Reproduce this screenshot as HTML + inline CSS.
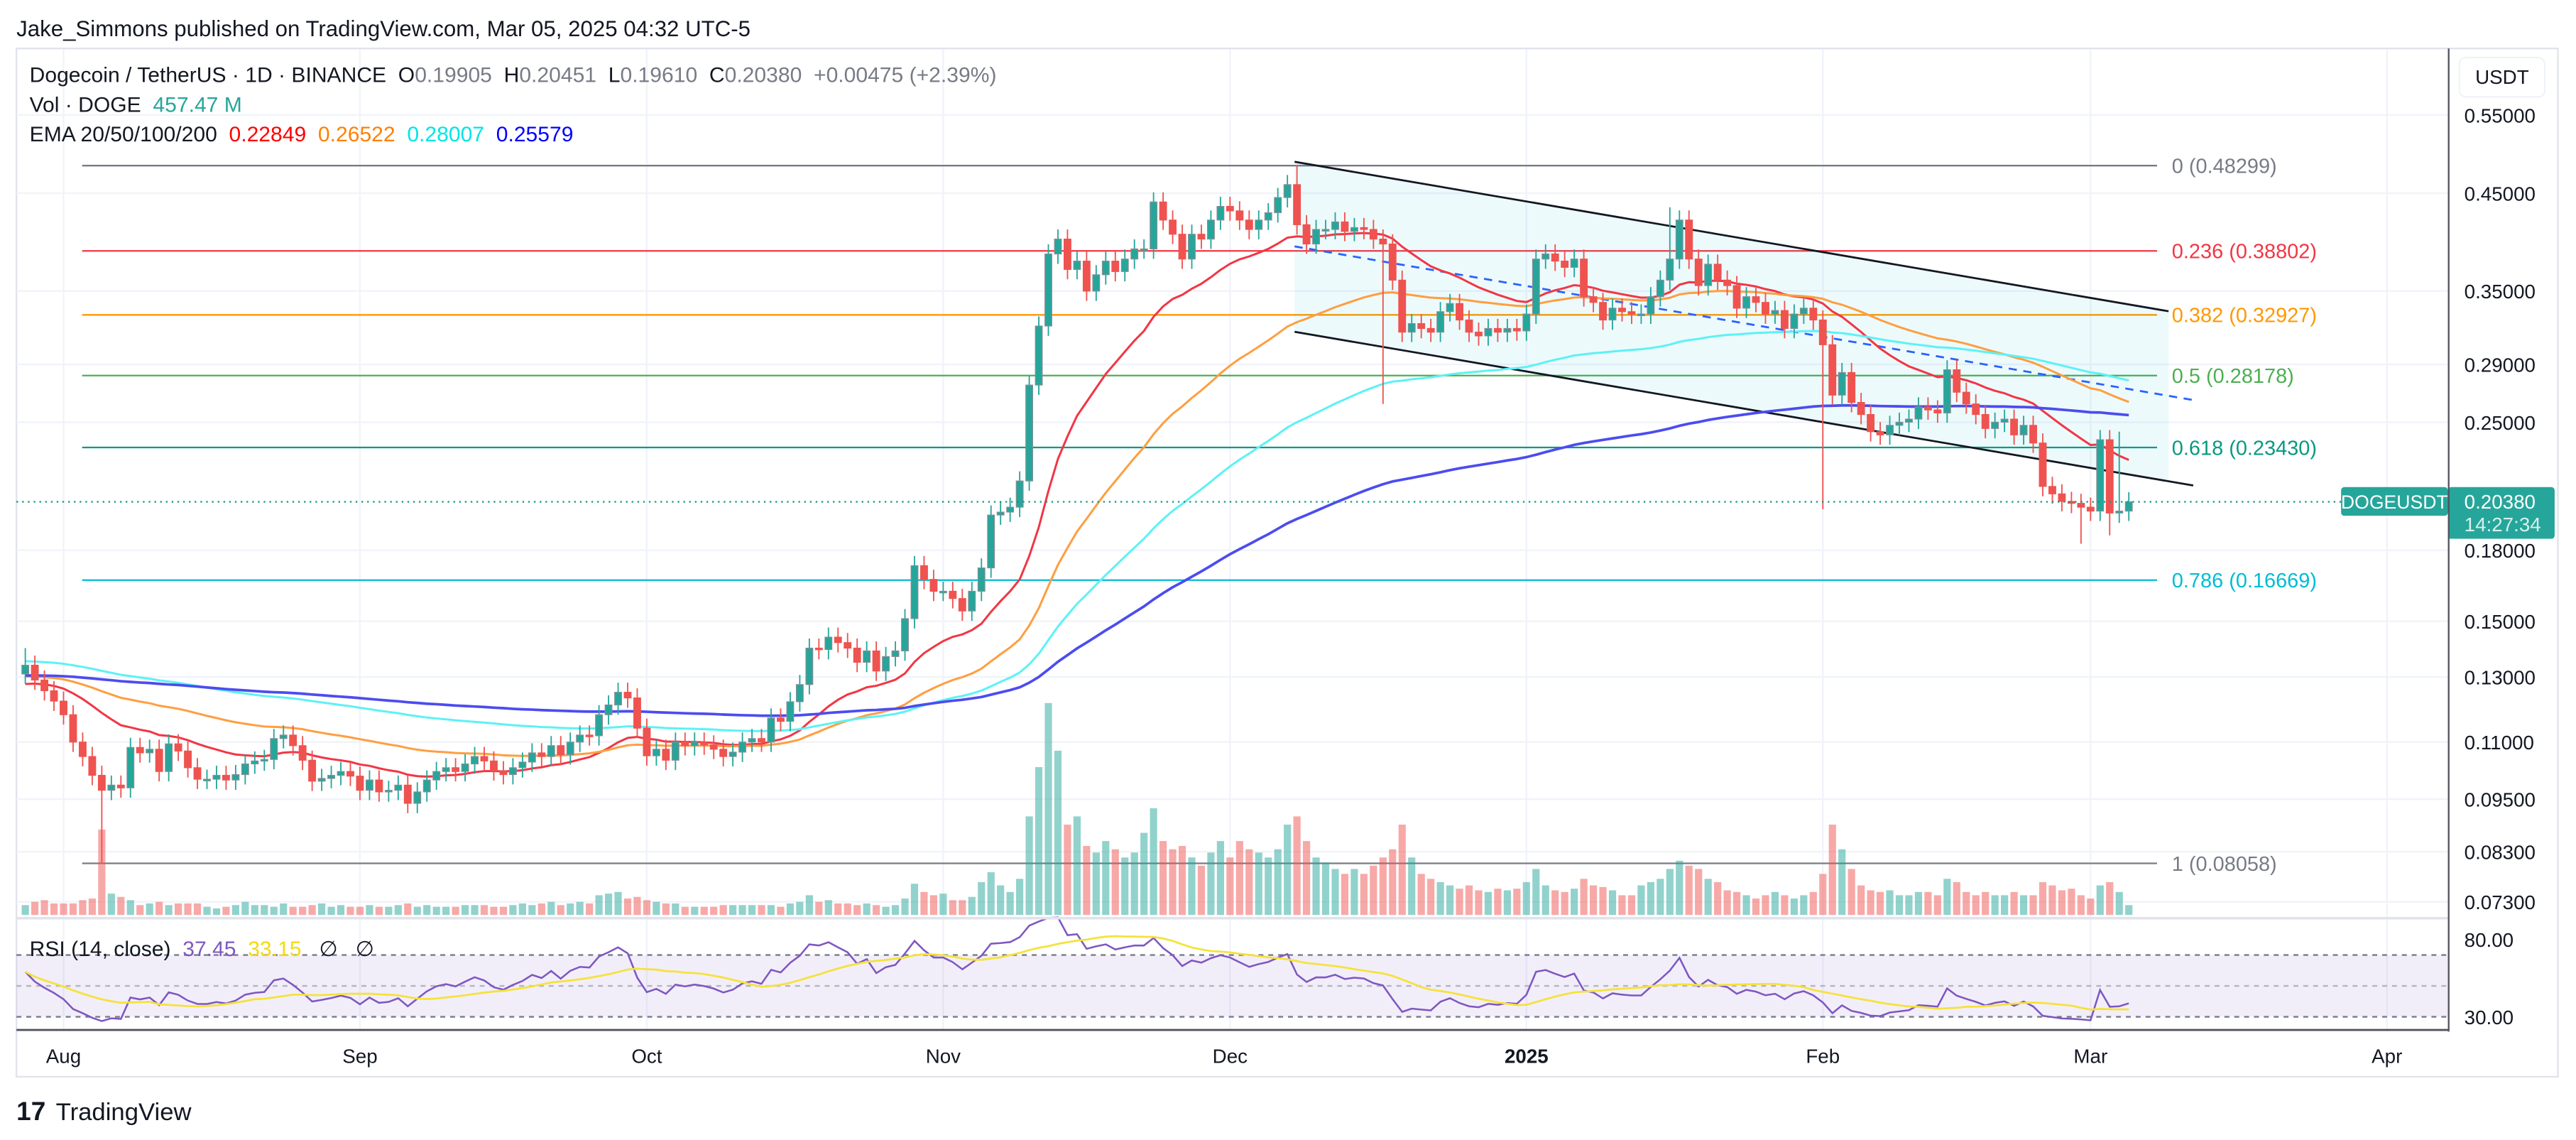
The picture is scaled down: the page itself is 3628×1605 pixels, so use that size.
<!DOCTYPE html>
<html><head><meta charset="utf-8"><title>DOGEUSDT chart</title>
<style>
html,body{margin:0;padding:0;background:#fff;}
svg{display:block;font-family:"Liberation Sans",sans-serif;}
</style></head>
<body>
<svg id="chart" width="3628" height="1605" viewBox="0 0 1568 694" preserveAspectRatio="none" xmlns="http://www.w3.org/2000/svg">
<rect x="0" y="0" width="1568" height="694" fill="#ffffff"/>
<text x="10" y="22" font-size="13.5" fill="#131722">Jake_Simmons published on TradingView.com, Mar 05, 2025 04:32 UTC-5</text>
<rect x="10" y="29.5" width="1547" height="626" fill="none" stroke="#e0e3eb" stroke-width="1"/>
<g id="grid"></g>
<g id="fibs"></g>
<g id="channel"></g>
<g id="vol"></g>
<g id="emas"></g>
<g id="candles"></g>
<g id="rsi"></g>
<g id="axes"></g>
<line x1="1490.5" y1="29.5" x2="1490.5" y2="628" stroke="#50535e" stroke-width="1"/>
<line x1="10" y1="627" x2="1490.5" y2="627" stroke="#50535e" stroke-width="1.2"/>
<line x1="10" y1="559" x2="1490" y2="559" stroke="#e0e3eb" stroke-width="1.5"/>
<rect x="1497" y="35" width="52" height="24" rx="4" fill="#fff" stroke="#f0f3fa"/>
<text x="1523" y="51" font-size="12" fill="#131722" text-anchor="middle">USDT</text>
<g font-size="13" fill="#131722">
<text x="18" y="50" xml:space="preserve"><tspan fill="#131722">Dogecoin / TetherUS · 1D · BINANCE  O</tspan><tspan fill="#787b86">0.19905</tspan><tspan fill="#131722">  H</tspan><tspan fill="#787b86">0.20451</tspan><tspan fill="#131722">  L</tspan><tspan fill="#787b86">0.19610</tspan><tspan fill="#131722">  C</tspan><tspan fill="#787b86">0.20380  +0.00475 (+2.39%)</tspan></text>
<text x="18" y="68" xml:space="preserve"><tspan>Vol · DOGE  </tspan><tspan fill="#26a69a">457.47 M</tspan></text>
<text x="18" y="86" xml:space="preserve"><tspan>EMA 20/50/100/200  </tspan><tspan fill="#ff0000">0.22849</tspan><tspan>  </tspan><tspan fill="#ff8000">0.26522</tspan><tspan>  </tspan><tspan fill="#00e5e5">0.28007</tspan><tspan>  </tspan><tspan fill="#0000ff">0.25579</tspan></text>
<text x="18" y="582" xml:space="preserve"><tspan>RSI (14, close)  </tspan><tspan fill="#7e57c2">37.45</tspan><tspan>  </tspan><tspan fill="#f5d90a">33.15</tspan><tspan>   ∅   ∅</tspan></text>
</g>
<g>
<text x="10" y="682" font-size="16" font-weight="bold" fill="#131722">17</text>
<text x="34" y="682" font-size="15" fill="#131722">TradingView</text>
</g>
</svg>
<script>
const closes = [0.1340,0.1290,0.1255,0.1222,
0.1180,0.1100,0.1060,0.1010,0.0972,0.0985,0.0978,0.1085,0.1070,0.1080,0.1020,0.1095,0.1075,0.1030,0.1000,0.1000,0.1010,0.0998,0.1012,0.1040,0.1048,0.1052,0.1110,0.1120,0.1090,0.1050,0.0995,0.1002,0.1010,0.1020,0.1008,
0.0972,0.0998,0.0968,0.0972,0.0985,0.0940,0.0968,0.0998,0.1020,0.1030,0.1020,0.1040,0.1060,0.1048,0.1022,0.1012,0.1030,0.1045,0.1070,0.1060,0.1090,0.1065,0.1100,0.1120,0.1118,0.1180,0.1210,0.1250,0.1232,0.1140,
0.1062,0.1080,0.1050,0.1100,0.1090,0.1100,0.1092,0.1080,0.1060,0.1072,0.1100,0.1110,0.1100,0.1170,0.1160,0.1220,0.1275,0.1400,0.1395,0.1440,0.1420,0.1400,0.1350,0.1390,0.1320,0.1370,0.1390,0.1510,0.1730,0.1670,0.1620,
0.1620,0.1590,0.1540,0.1620,0.1720,0.1970,0.1985,0.2010,0.2150,0.2750,0.3200,0.3850,0.4000,0.3700,0.3780,0.3500,0.3650,0.3780,0.3680,0.3800,0.3900,0.3900,0.4400,0.4200,0.4050,0.3800,0.4050,0.4000,0.4200,0.4350,
0.4300,0.4200,0.4100,0.4200,0.4280,0.4450,0.4600,0.4150,0.3950,0.4100,0.4100,0.4180,0.4080,0.4120,0.4100,0.4000,0.3950,0.3600,0.3150,0.3220,0.3180,0.3150,0.3320,0.3390,0.3250,0.3150,0.3120,0.3180,0.3150,0.3180,0.3160,
0.3300,0.3800,0.3850,0.3780,0.3720,0.3800,0.3450,0.3400,0.3250,0.3350,0.3320,0.3300,0.3300,0.3450,0.3600,0.3800,0.4200,0.3800,0.3550,0.3750,0.3600,0.3550,0.3350,0.3450,0.3400,0.3300,0.3330,0.3180,0.3300,0.3350,0.3250,
0.3050,0.2680,0.2840,0.2630,0.2550,0.2440,0.2420,0.2480,0.2500,0.2520,0.2600,0.2580,0.2560,0.2860,0.2700,0.2620,0.2550,0.2460,0.2500,0.2520,0.2420,0.2480,0.2370,0.2120,0.2080,0.2040,0.2030,0.2010,
0.1990,0.2390,0.1980,0.1990,0.2038];
const firstOpen = 0.1310;
const wickHighs = {0:0.140, 133:0.484, 172:0.434, 219:0.244};
const wickLows = {8:0.0805, 142:0.262, 188:0.200, 215:0.183, 218:0.187};
const volumes = [6,8,9,7,
7,7,9,10,52,13,11,9,6,7,8,6,7,7,7,5,4,5,6,8,6,6,5,7,5,5,6,7,5,6,5,
5,6,5,5,6,7,5,6,5,5,5,6,6,6,5,5,6,7,6,7,8,6,7,8,7,12,13,14,10,11,
9,8,7,7,5,5,5,5,6,6,6,6,6,6,5,7,8,12,8,9,7,7,6,7,6,5,6,10,19,14,12,
13,9,9,11,20,26,18,14,22,60,90,129,100,55,60,42,38,45,40,35,38,50,65,45,40,42,35,30,38,45,
35,45,40,38,35,40,55,60,45,35,32,28,25,28,25,30,35,40,55,35,25,22,20,18,16,18,15,14,16,15,16,
20,28,18,15,14,16,22,18,17,15,12,12,18,20,22,28,33,30,28,22,20,15,14,12,10,12,14,12,10,12,14,
25,55,40,28,18,15,14,15,12,12,14,14,12,22,20,14,12,14,12,12,14,12,12,20,18,15,16,12,
10,18,20,14,6];
const priceTicks = [0.55,0.45,0.35,0.29,0.25,0.18,0.15,0.13,0.11,0.095,0.083,0.073];
const monthLabels = ["Aug","Sep","Oct","Nov","Dec","2025","Feb","Mar","Apr"];
const monthIndex = [4,35,65,96,126,157,188,216,247];
const fibRatios = ["0","0.236","0.382","0.5","0.618","0.786","1"];
const fibPrices = [0.48299,0.38802,0.32927,0.28178,0.23430,0.16669,0.08058];
const emaPeriods = [20,50,100,200];
const emaSeeds = [0.127,0.130,0.1354,0.1305];
const rsiTicks = [80,30];
const lastPrice = 0.20380;

const NS="http://www.w3.org/2000/svg";
function mk(tag, attrs, parent){const e=document.createElementNS(NS,tag);for(const k in attrs)e.setAttribute(k,attrs[k]);parent.appendChild(e);return e;}
const py = p => 70 + Math.log(0.55/p)*237.2;
const tx = i => 15.4 + i*5.82;
const ry = r => 619 - (r-30)*0.94;
const VOLBASE = 557;

const grid=document.getElementById('grid');
priceTicks.forEach(p=>{const l=mk('line',{x1:10,x2:1490,y1:py(p),y2:py(p),stroke:'#f0f3fa','stroke-width':1},grid);

});
monthIndex.forEach(i=>{const l=mk('line',{x1:tx(i),x2:tx(i),y1:30,y2:627,stroke:'#f0f3fa','stroke-width':1},grid);

});

const fibColors=['#787b86','#f23645','#ff9800','#4caf50','#089981','#00bcd4','#787b86'];
const fibs=document.getElementById('fibs');
fibPrices.forEach((p,k)=>{
  const l=mk('line',{x1:50,x2:1313,y1:py(p),y2:py(p),stroke:fibColors[k],'stroke-width':1},fibs);
  
  
  const t=mk('text',{x:1322,y:py(p)+4.5,'font-size':12.5,fill:fibColors[k]},fibs);
  t.textContent=fibRatios[k]+' ('+p.toFixed(5)+')';
  
  
});

const ch=document.getElementById('channel');
const cx1=788, cx2=1320, up1=98.5, lo1=202, slope=0.171;
const poly=mk('polygon',{points:`${cx1},${up1} ${cx2},${up1+slope*(cx2-cx1)} ${cx2},${lo1+slope*(cx2-cx1)} ${cx1},${lo1}`,fill:'rgba(0,188,212,0.07)'},ch);


const lu=mk('line',{x1:cx1,y1:up1,x2:cx2,y2:up1+slope*(cx2-cx1),stroke:'#131722','stroke-width':1.2},ch);


const ll=mk('line',{x1:cx1,y1:lo1,x2:1335,y2:lo1+slope*(1335-cx1),stroke:'#131722','stroke-width':1.2},ch);


const lm=mk('line',{x1:cx1,y1:150,x2:1335,y2:150+slope*(1335-cx1),stroke:'#2962ff','stroke-width':1.2,'stroke-dasharray':'5 4'},ch);



const opens=closes.map((c,i)=>i===0?firstOpen:closes[i-1]);
const vg=document.getElementById('vol');
volumes.forEach((v,i)=>{const up=closes[i]>=opens[i];
  const r=mk('rect',{x:tx(i)-2.2,y:VOLBASE-v,width:4.4,height:v,fill:up?'rgba(38,166,154,0.5)':'rgba(239,83,80,0.5)'},vg);
  
  });

const emaColors=['#f23645','#ff9e40','#5cf2f5','#4c4cf0'];
const eg=document.getElementById('emas');
emaPeriods.forEach((n,k)=>{let e=emaSeeds[k];const a=2/(n+1);let d='';
  closes.forEach((c,i)=>{e=e+a*(c-e);d+=(i?'L':'M')+tx(i).toFixed(1)+','+py(e).toFixed(1);});
  const p=mk('path',{d:d,fill:'none',stroke:emaColors[k],'stroke-width':k===3?1.6:1.3},eg);
  
  });

const cg=document.getElementById('candles');
closes.forEach((c,i)=>{const o=opens[i];const up=c>=o;
  const hi=wickHighs[i]!==undefined?wickHighs[i]:Math.max(o,c)*1.025;
  const lo=wickLows[i]!==undefined?wickLows[i]:Math.min(o,c)*0.975;
  const col=up?'#26a69a':'#ef5350';
  const w=mk('line',{x1:tx(i),x2:tx(i),y1:py(hi),y2:py(lo),stroke:col,'stroke-width':0.8},cg);
  
  
  const yt=py(Math.max(o,c)),yb=py(Math.min(o,c));
  const b=mk('rect',{x:tx(i)-2.1,y:yt,width:4.2,height:Math.max(1,yb-yt),fill:col,stroke:up?'#8a8d96':col,'stroke-width':0.5},cg);
  
  });

const ax=document.getElementById('axes');
const lp=mk('line',{x1:10,x2:1490,y1:py(lastPrice),y2:py(lastPrice),stroke:'#089981','stroke-width':1,'stroke-dasharray':'1 2.5'},ax);


priceTicks.forEach(p=>{const t=mk('text',{x:1500,y:py(p)+4.5,'font-size':12,fill:'#131722'},ax);t.textContent=p.toFixed(5);
  
  });
monthLabels.forEach((m,k)=>{const t=mk('text',{x:tx(monthIndex[k]),y:647,'font-size':12,fill:'#131722','text-anchor':'middle','font-weight':m==='2025'?'bold':'normal'},ax);t.textContent=m;
  
  });
const sb=mk('rect',{x:1425,y:296.5,width:65,height:17.5,rx:2,fill:'#26a69a'},ax);


const st=mk('text',{x:1457.5,y:309.5,'font-size':11.5,fill:'#fff','text-anchor':'middle'},ax);st.textContent='DOGEUSDT';


const pb=mk('rect',{x:1490,y:296.5,width:65,height:31.5,rx:2,fill:'#26a69a'},ax);


const pt=mk('text',{x:1500,y:309.5,'font-size':12,fill:'#fff'},ax);pt.textContent=lastPrice.toFixed(5);


const ct=mk('text',{x:1500,y:323.5,'font-size':12,fill:'#d7f0ec'},ax);ct.textContent='14:27:34';



const rg=document.getElementById('rsi');
const band=mk('rect',{x:10,y:ry(70),width:1480,height:ry(30)-ry(70),fill:'rgba(126,87,194,0.1)'},rg);


[[70,'#787b86'],[50,'#b2b5be'],[30,'#787b86']].forEach(([v,c])=>{const l=mk('line',{x1:10,x2:1490,y1:ry(v),y2:ry(v),stroke:c,'stroke-width':1,'stroke-dasharray':'3 3'},rg);
  
  });
let ag=0.0018,al=0.0014;const rsi=[];
closes.forEach((c,i)=>{const chg=c-opens[i];const g=Math.max(chg,0),l=Math.max(-chg,0);
  ag=(ag*13+g)/14;al=(al*13+l)/14;rsi.push(100-100/(1+ag/al));});
let d='';rsi.forEach((r,i)=>{d+=(i?'L':'M')+tx(i).toFixed(1)+','+ry(r).toFixed(1);});
const rl=mk('path',{d:d,fill:'none',stroke:'#7e57c2','stroke-width':1.1},rg);


let dm='';rsi.forEach((r,i)=>{const s=rsi.slice(Math.max(0,i-13),i+1);const m=s.reduce((a,b)=>a+b,0)/s.length;dm+=(i?'L':'M')+tx(i).toFixed(1)+','+ry(m).toFixed(1);});
const ml=mk('path',{d:dm,fill:'none',stroke:'#f5e23b','stroke-width':1.2},rg);


rsiTicks.forEach(v=>{const t=mk('text',{x:1500,y:ry(v)+4.5,'font-size':12,fill:'#131722'},rg);t.textContent=v.toFixed(2);
  
  });
</script>
</body></html>
